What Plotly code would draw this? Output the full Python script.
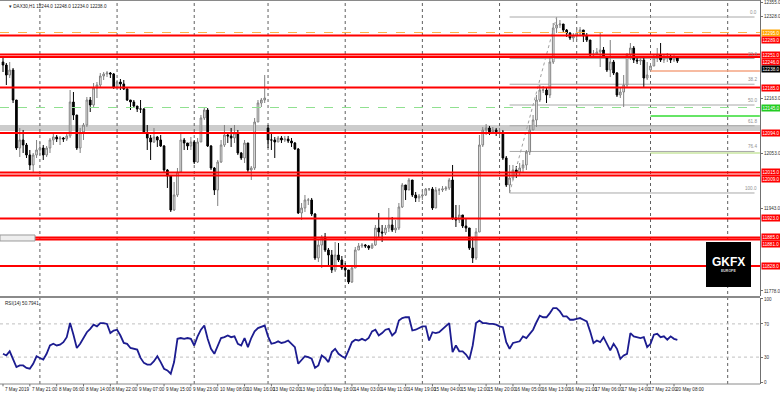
import plotly.graph_objects as go

# ---------------- data ----------------
first_open = 12236
close = [
    12230, 12210, 12220, 12160, 12064, 12080, 12070, 12050, 12030, 12050,
    12060, 12064, 12050, 12064, 12080, 12086, 12082, 12084, 12082, 12088,
    12156, 12130, 12064, 12096, 12110, 12160, 12150, 12184, 12190, 12208,
    12212, 12214, 12212, 12186, 12196, 12192, 12182, 12160, 12156, 12148,
    12142, 12142, 12094, 12084, 12076, 12086, 12080, 12068, 12020, 12008,
    11940, 11970, 12016, 12080, 12074, 12068, 12076, 12036, 12076, 12124,
    12140, 12068, 12024, 11980, 12036, 12070, 12090, 12088, 12084, 12094,
    12054, 12044, 12074, 12020, 12024, 12116, 12154, 12160, 12164, 12080,
    12080, 12076, 12084, 12080, 12082, 12078, 12074, 12062, 11934, 11944,
    11960, 11960, 11932, 11844, 11870, 11886, 11860, 11850, 11820, 11850,
    11840, 11824, 11820, 11796, 11824, 11860, 11868, 11870, 11868, 11864,
    11870, 11904, 11896, 11894, 11904, 11910, 11900, 11904, 11946, 11990,
    11980, 12000, 11970, 11964, 11968, 11970, 11982, 11982, 11944, 11980,
    11980, 11982, 11984, 12000, 11924, 11920, 11930, 11908, 11904, 11864,
    11844, 11896, 12070, 12100, 12104, 12096, 12100, 12094, 12096, 12044,
    11990, 12004, 12020, 12016, 12024, 12030, 12056, 12100, 12120, 12160,
    12180, 12180, 12170, 12236, 12304, 12310, 12312, 12300, 12294, 12284,
    12288, 12294, 12300, 12288, 12280, 12250, 12252, 12256, 12260, 12246,
    12220, 12236, 12214, 12170, 12176, 12190, 12250, 12264, 12240, 12238,
    12240, 12204, 12210, 12228, 12244, 12250, 12240, 12244, 12246, 12240,
    12244, 12238,
]
high = [
    12244, 12234, 12236, 12224, 12160, 12104, 12100, 12074, 12060, 12054,
    12080, 12076, 12070, 12068, 12084, 12094, 12090, 12088, 12086, 12092,
    12180, 12176, 12130, 12104, 12114, 12166, 12166, 12194, 12196, 12214,
    12216, 12218, 12216, 12214, 12200, 12202, 12200, 12184, 12160, 12160,
    12148, 12160, 12144, 12110, 12090, 12104, 12088, 12090, 12070, 12022,
    12010, 11996, 12024, 12094, 12084, 12074, 12086, 12080, 12084, 12130,
    12146, 12144, 12070, 12026, 12040, 12080, 12110, 12094, 12104, 12110,
    12100, 12056, 12080, 12074, 12028, 12124, 12160, 12164, 12210, 12110,
    12096, 12086, 12088, 12088, 12088, 12088, 12084, 12076, 12064, 11954,
    11970, 11964, 11964, 11934, 11880, 11890, 11894, 11864, 11860, 11876,
    11874, 11848, 11834, 11820, 11830, 11866, 11874, 11874, 11872, 11870,
    11874, 11910, 11934, 11910, 11910, 11944, 11926, 11920, 11954, 11994,
    11990, 12004, 12000, 11976, 11972, 11980, 11984, 11984, 11986, 11986,
    11984, 11988, 11988, 12004, 12030, 11950, 11950, 11930, 11924, 11904,
    11886, 11904, 12090, 12106, 12112, 12108, 12106, 12104, 12104, 12100,
    12048, 12030, 12030, 12028, 12034, 12040, 12060, 12110, 12130, 12170,
    12190, 12188, 12184, 12246, 12314, 12326, 12320, 12312, 12302, 12296,
    12294, 12304, 12306, 12300, 12294, 12280, 12260, 12264, 12294, 12266,
    12248, 12280, 12240, 12216, 12184, 12210, 12254, 12274, 12268, 12244,
    12244, 12244, 12236, 12234, 12250, 12264, 12274, 12250, 12254, 12250,
    12252, 12248,
]
low = [
    12216, 12190, 12204, 12154, 12060, 12046, 12054, 12044, 12020, 12016,
    12044, 12050, 12040, 12046, 12054, 12070, 12076, 12070, 12076, 12078,
    12084, 12120, 12060, 12054, 12080, 12106, 12136, 12144, 12164, 12184,
    12200, 12206, 12204, 12182, 12182, 12180, 12180, 12158, 12140, 12144,
    12136, 12134, 12092, 12060, 12040, 12074, 12066, 12066, 12016, 11984,
    11936, 11938, 11966, 12016, 12060, 12060, 12060, 12032, 12034, 12076,
    12120, 12066, 12020, 11970, 11948, 12034, 12066, 12074, 12066, 12074,
    12050, 12040, 12034, 12016, 12000, 12020, 12116, 12146, 12154, 12064,
    12060, 12044, 12076, 12074, 12076, 12074, 12066, 12060, 11932, 11920,
    11936, 11950, 11928, 11840, 11836, 11824, 11856, 11826, 11814, 11816,
    11836, 11820, 11806, 11792, 11794, 11824, 11860, 11864, 11864, 11860,
    11862, 11868, 11886, 11876, 11890, 11896, 11896, 11894, 11900, 11944,
    11960, 11980, 11966, 11956, 11956, 11960, 11968, 11978, 11940, 11944,
    11970, 11976, 11978, 11980, 11920, 11906, 11914, 11904, 11896, 11860,
    11834, 11840, 11896, 12066, 12090, 12090, 12092, 12088, 12086, 12040,
    11986, 11974, 12000, 12004, 12010, 12016, 12020, 12050, 12100, 12106,
    12156, 12174, 12154, 12164, 12232, 12294, 12304, 12294, 12286, 12280,
    12276, 12280, 12288, 12276, 12276, 12246, 12246, 12250, 12226, 12244,
    12216, 12206, 12210, 12166, 12164, 12146, 12184, 12240, 12234, 12232,
    12230, 12184, 12200, 12216, 12228, 12236, 12236, 12234, 12236, 12234,
    12236, 12234,
]
gap_open = {79: 12104, 193: 12220}
rsi = [
    34, 32, 37, 28, 18, 20, 20, 17, 16, 22,
    31, 29, 27, 34, 44, 46, 44, 45, 48, 54,
    71, 57, 41, 46, 53, 60, 64, 69, 67, 71,
    71, 70, 59, 62, 63, 56, 47, 46, 41, 40,
    39, 29, 23, 21, 21, 25, 31, 24, 16, 14,
    10, 24, 52, 53, 52, 53, 52, 44, 55, 63,
    68, 52, 40, 34, 44, 53, 54, 56, 54, 55,
    46, 44, 53, 42, 53, 61, 65, 67, 68, 55,
    46, 47, 49, 47, 48, 50, 46, 42, 22, 26,
    31, 30, 28, 17, 20, 32, 29, 24, 36, 40,
    34, 31, 29, 38, 48, 51, 50, 52, 50, 53,
    61, 63, 56, 59, 63, 64, 56, 60, 74, 77,
    78, 78, 62, 63, 65, 67, 67, 50, 60, 59,
    60, 64, 68, 71, 36, 44, 37, 37, 33, 27,
    44, 71, 74, 71, 71, 70, 70, 69, 67, 66,
    48, 40, 47, 48, 49, 55, 53, 58, 63, 72,
    80, 78, 78, 83, 89, 89, 85, 79, 79, 75,
    75, 76, 77, 75, 73, 61, 47, 50, 48, 54,
    46, 38, 46, 40, 28, 32, 34, 59, 55, 54,
    53, 54, 42, 46, 57, 58, 54, 55, 51, 55,
    52, 50.79,
]

label_idx = [0, 8, 16, 24, 32, 40, 48, 56, 64, 72, 80, 88, 96, 104, 112,
             120, 128, 136, 144, 152, 160, 168, 176, 184, 192, 200]
label_txt = ["7 May 2019", "7 May 21:00", "8 May 06:00", "8 May 14:00", "8 May 22:00",
             "9 May 07:00", "9 May 15:00", "9 May 23:00", "10 May 08:00", "10 May 16:00",
             "13 May 02:00", "13 May 10:00", "13 May 18:00", "14 May 03:00", "14 May 11:00",
             "14 May 19:00", "15 May 04:00", "15 May 12:00", "15 May 20:00", "16 May 05:00",
             "16 May 13:00", "16 May 21:00", "17 May 06:00", "17 May 14:00", "17 May 22:00",
             "20 May 08:00"]
day_start_idx = [11, 34, 57, 79, 102, 125, 148, 171, 193, 216]

price_ticks = [12355, 12328, 12273, 12218, 12163, 12108, 12053, 11998, 11943, 11888, 11833, 11778]
rsi_ticks = [0, 30, 70, 100]

red_levels = [12289, 12251, 12246, 12185, 12094, 12015, 12009, 11923, 11885, 11881, 11828]
orange_level = 12295
green_dash_level = 12145
band_low, band_high = 12098, 12110
pivot_start = 193
pivot_levels = [12218, 12128, 12054]
pivot_colors = ["#f4a582", "#33dd33", "#c8e6a0"]
fib_low_idx, fib_low = 151, 11974
fib_high_idx, fib_high = 165, 12326
fib_ratios = [0.0, 23.6, 38.2, 50.0, 61.8, 76.4, 100.0]
last_price = close[-1]

# ---------------- build ----------------
n = len(close)
xs = list(range(n))
opens = [first_open] + close[:-1]
for k, v in gap_open.items():
    opens[k] = v

FONT = "Liberation Sans"
SMALL = 4.6
fig = go.Figure()
fig.add_trace(go.Candlestick(
    x=xs, open=opens, high=high, low=low, close=close,
    increasing=dict(line=dict(color="#808080", width=1), fillcolor="#ffffff"),
    decreasing=dict(line=dict(color="#000000", width=1), fillcolor="#000000"),
    whiskerwidth=0, showlegend=False, hoverinfo="skip", xaxis="x", yaxis="y"))
fig.add_trace(go.Scatter(
    x=xs, y=rsi, mode="lines", line=dict(color="#1c1c90", width=1.8),
    showlegend=False, hoverinfo="skip", xaxis="x", yaxis="y2"))

shapes = []
shapes.append(dict(type="rect", xref="paper", yref="y", x0=0, x1=1, y0=band_low, y1=band_high,
                   fillcolor="#cccccc", line=dict(width=0), layer="below"))
for d in day_start_idx:
    shapes.append(dict(type="line", xref="x", yref="paper", x0=d, x1=d, y0=0, y1=1,
                       line=dict(color="#606060", width=1, dash="dot"), layer="below"))
for lv in (30, 70):
    shapes.append(dict(type="line", xref="paper", yref="y2", x0=0, x1=1, y0=lv, y1=lv,
                       line=dict(color="#c0c0c0", width=1, dash="dot"), layer="below"))
for r in fib_ratios:
    lv = fib_high - r / 100.0 * (fib_high - fib_low)
    shapes.append(dict(type="line", xref="x", yref="y", x0=fib_low_idx, x1=224, y0=lv, y1=lv,
                       line=dict(color="#a8a8a8", width=1), layer="below"))
shapes.append(dict(type="line", xref="x", yref="y", x0=fib_low_idx, x1=fib_high_idx,
                   y0=fib_low, y1=fib_high, line=dict(color="#a0a0a0", width=1, dash="dot")))
shapes.append(dict(type="line", xref="paper", yref="y", x0=0, x1=1, y0=orange_level, y1=orange_level,
                   line=dict(color="#ffb347", width=1, dash="dash")))
shapes.append(dict(type="line", xref="paper", yref="y", x0=0, x1=1, y0=green_dash_level, y1=green_dash_level,
                   line=dict(color="#90e090", width=1, dash="dash")))
for lv, col in zip(pivot_levels, pivot_colors):
    shapes.append(dict(type="line", xref="x", yref="y", x0=pivot_start, x1=225.6, y0=lv, y1=lv,
                       line=dict(color=col, width=1.5)))
for lv in red_levels:
    shapes.append(dict(type="line", xref="paper", yref="y", x0=0, x1=1, y0=lv, y1=lv,
                       line=dict(color="#ff0000", width=1.8)))
shapes.append(dict(type="rect", xref="paper", yref="y", x0=0.0, x1=35 / 760, y0=11878, y1=11890,
                   fillcolor="#eeeeee", line=dict(color="#9a9a9a", width=1)))
shapes.append(dict(type="rect", xref="paper", yref="y", x0=706 / 760, x1=751 / 760, y0=11786, y1=11876,
                   fillcolor="#000000", line=dict(width=0), layer="above"))
shapes.append(dict(type="line", xref="paper", yref="paper", x0=0, x1=1, y0=0.2266, y1=0.2266,
                   line=dict(color="#8a8a8a", width=2)))
shapes.append(dict(type="line", xref="paper", yref="paper", x0=0, x1=1, y0=0, y1=0,
                   line=dict(color="#8a8a8a", width=1)))
shapes.append(dict(type="line", xref="paper", yref="paper", x0=0, x1=1, y0=1, y1=1,
                   line=dict(color="#8a8a8a", width=2)))
for i in label_idx:
    shapes.append(dict(type="line", xref="x", yref="paper", x0=i, x1=i, y0=0, y1=-0.006,
                       line=dict(color="#707070", width=1)))

ann = []
ann.append(dict(xref="paper", yref="paper", x=0.009, y=0.996, xanchor="left", yanchor="top",
                text="\u25BE DAX30,H1 12244.0 12248.0 12234.0 12238.0", showarrow=False,
                font=dict(family=FONT, size=SMALL, color="#222")))
ann.append(dict(xref="paper", yref="paper", x=0.004, y=0.221, xanchor="left", yanchor="top",
                text="RSI(14) 50.7941", showarrow=False, font=dict(family=FONT, size=SMALL, color="#222")))
for i, t in zip(label_idx, label_txt):
    ann.append(dict(xref="x", yref="paper", x=i, y=0, xanchor="left", yanchor="top", yshift=-1,
                    text=t, showarrow=False, font=dict(family=FONT, size=SMALL, color="#222")))

# right-hand price boxes, stacked downward when they would collide
BOX_H = 14  # box height expressed in price units
box_levels = sorted([(orange_level, "#ffa500"), (green_dash_level, "#22cc22"), (last_price, "#000000")]
                    + [(lv, "#ff0000") for lv in red_levels], key=lambda t: -t[0])
centers = []
prev = None
for lv, bg in box_levels:
    c = lv if prev is None else min(lv, prev - BOX_H)
    centers.append(c)
    prev = c
    ann.append(dict(xref="paper", yref="y", x=1, y=c, xanchor="left", yanchor="middle", xshift=1,
                    text=f"{lv:.1f}", showarrow=False, bgcolor=bg, borderpad=0.5,
                    font=dict(family=FONT, size=SMALL, color="#ffffff")))
shown_ticks = [v for v in price_ticks if all(abs(v - c) > BOX_H for c in centers)]

for r in fib_ratios:
    lv = fib_high - r / 100.0 * (fib_high - fib_low)
    ann.append(dict(xref="x", yref="y", x=225.3, y=lv, xanchor="right", yanchor="bottom",
                    text=f"{r:.1f}", showarrow=False, font=dict(family=FONT, size=SMALL, color="#909090")))
ann.append(dict(xref="paper", yref="y", x=728.5 / 760, y=11836, xanchor="center", yanchor="middle",
                text="<b>GKFX</b>", showarrow=False, font=dict(family=FONT, size=12, color="#ffffff")))
ann.append(dict(xref="paper", yref="y", x=728.5 / 760, y=11817, xanchor="center", yanchor="middle",
                text="<b>EUROPE</b>", showarrow=False, font=dict(family=FONT, size=3.5, color="#dddddd")))

fig.update_layout(
    width=780, height=395, margin=dict(l=0, r=20, t=0, b=11, autoexpand=False),
    paper_bgcolor="#ffffff", plot_bgcolor="#ffffff",
    shapes=shapes, annotations=ann,
    xaxis=dict(range=[-0.894, 225.634], showticklabels=False, showgrid=False, zeroline=False,
               rangeslider=dict(visible=False), anchor="y2", fixedrange=True, automargin=False),
    yaxis=dict(domain=[0.2292, 1], range=[11768, 12360], side="right", anchor="x", automargin=False,
               tickvals=shown_ticks, ticktext=[f"{v:.1f}" for v in shown_ticks],
               tickfont=dict(family=FONT, size=SMALL, color="#333"), showgrid=False, zeroline=False,
               showline=True, linecolor="#707070", ticks="outside", ticklen=2, tickcolor="#707070"),
    yaxis2=dict(domain=[0, 0.224], range=[-2.4, 101.2], side="right", anchor="x", automargin=False,
                tickvals=rsi_ticks, ticktext=[str(v) for v in rsi_ticks],
                tickfont=dict(family=FONT, size=SMALL, color="#333"), showgrid=False, zeroline=False,
                showline=True, linecolor="#707070", ticks="outside", ticklen=2, tickcolor="#707070"),
)
fig.write_html("out.html", config={"displayModeBar": False},
               post_script="document.body.style.margin='0';document.body.style.overflow='hidden';")
